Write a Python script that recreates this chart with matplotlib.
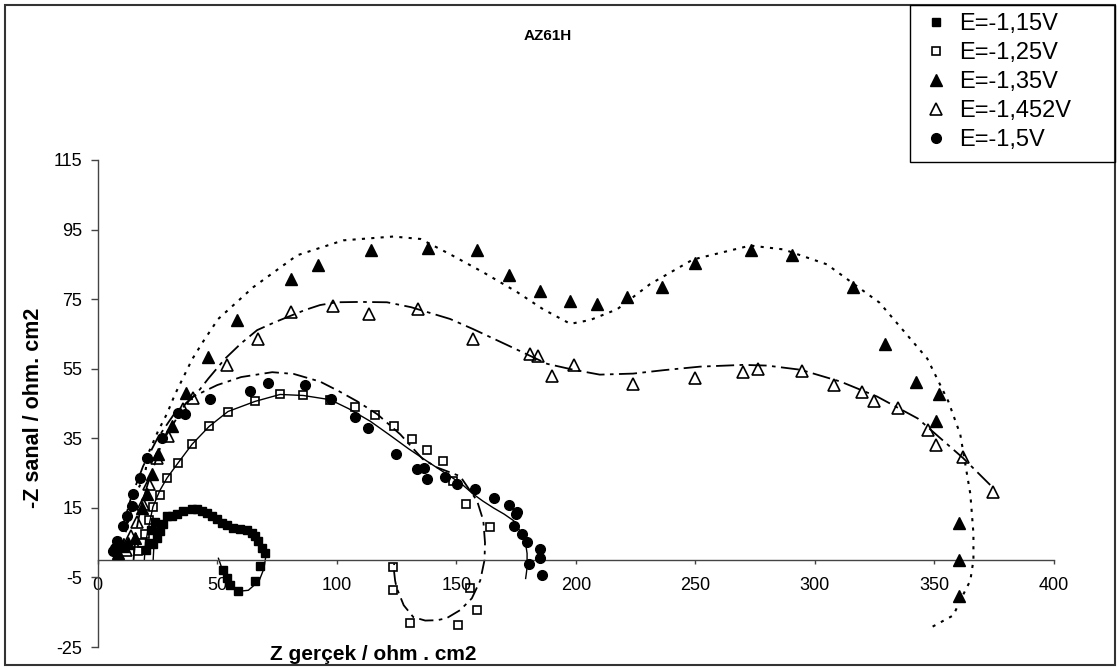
import matplotlib
matplotlib.use('Agg')
import matplotlib.pyplot as plt
from matplotlib.patches import Rectangle

plt.rcParams['font.family'] = ['Liberation Sans', 'DejaVu Sans']
plt.rcParams['axes.unicode_minus'] = False

labels = ['E=-1,15V', 'E=-1,25V', 'E=-1,35V', 'E=-1,452V', 'E=-1,5V']
title = 'AZ61H'
xlabel = 'Z gerçek / ohm . cm2'
ylabel = '-Z sanal / ohm. cm2'
xticks = [0, 50, 100, 150, 200, 250, 300, 350, 400]
yticks = [-25, -5, 15, 35, 55, 75, 95, 115]

# E=-1,15V (filled squares)
x115 = [20.0, 21.5, 22.5, 23.1, 24.0, 24.8, 26.1, 27.5, 29.0, 31.1, 33.2, 35.7, 39.5, 41.5, 43.6, 45.7,
        47.8, 49.9, 52.0, 54.1, 56.6, 59.5, 62.5, 64.6, 65.9, 67.1, 68.8, 70.0, 67.9, 65.9, 58.7,
        55.4, 54.1, 52.5]
y115 = [2.8, 5.0, 8.5, 4.7, 11.0, 6.4, 8.4, 10.5, 12.7, 12.7, 13.3, 14.1, 14.7, 14.7, 14.1, 13.6,
        12.7, 11.9, 10.7, 10.1, 9.3, 9.0, 8.7, 7.9, 7.0, 5.6, 3.6, 2.1, -1.6, -5.9, -9.0,
        -7.3, -5.3, -3.0]

# E=-1,25V (open squares)
x125 = [17.0, 18.5, 19.8, 21.5, 23.1, 26.1, 29.0, 33.6, 39.5, 46.6, 54.5, 65.8, 76.3, 86.0, 97.2,
        107.7, 116.1, 124.0, 131.5, 137.8, 144.5, 148.7, 154.1, 164.2, 158.7, 155.8, 150.8, 130.7,
        123.6, 123.6]
y125 = [2.5, 5.0, 7.6, 11.5, 15.3, 18.7, 23.6, 27.9, 33.3, 38.4, 42.7, 45.6, 47.6, 47.3, 46.1,
        44.1, 41.6, 38.4, 34.7, 31.6, 28.4, 22.7, 16.1, 9.6, -14.4, -7.9, -18.7, -18.1,
        -8.7, -2.1]

# E=-1,35V (filled triangles)
x135 = [8.5, 10.5, 12.7, 15.6, 18.5, 20.6, 22.7, 25.2, 31.1, 36.9, 46.2, 58.3, 80.9, 92.2, 114.4,
        138.2, 158.7, 172.1, 185.1, 197.7, 209.0, 221.5, 236.2, 250.0, 273.4, 290.5, 316.1,
        329.4, 342.4, 352.0, 350.8, 360.4, 360.4, 360.4]
y135 = [2.0, 4.0, 5.0, 6.4, 15.0, 19.0, 24.7, 30.4, 38.4, 47.9, 58.4, 69.0, 80.7, 84.7, 89.0,
        89.6, 89.0, 81.9, 77.3, 74.4, 73.6, 75.6, 78.4, 85.3, 89.0, 87.6, 78.4,
        62.1, 51.3, 47.6, 40.1, 10.7, 0.1, -10.4]

# E=-1,452V (open triangles)
x1452 = [12.0, 14.0, 16.5, 19.0, 21.5, 24.8, 29.4, 35.7, 39.9, 54.1, 67.1, 80.9, 98.5, 113.6,
         134.0, 157.1, 180.9, 184.2, 190.1, 199.3, 224.0, 250.0, 270.1, 276.0, 294.8, 307.8,
         319.5, 324.8, 334.9, 347.4, 350.8, 362.1, 374.6]
y1452 = [3.0, 7.0, 11.0, 16.0, 22.0, 29.3, 35.6, 43.3, 46.7, 56.1, 63.6, 71.3, 73.0, 70.7,
         72.1, 63.6, 59.3, 58.7, 53.0, 56.1, 50.7, 52.4, 54.1, 55.0, 54.4, 50.4,
         48.4, 45.6, 43.6, 37.3, 33.0, 29.6, 19.6]

# E=-1,5V (filled circles)
x15 = [6.4, 7.3, 8.1, 10.6, 12.3, 14.4, 14.8, 17.7, 20.6, 26.9, 33.6, 36.6, 47.0, 63.8, 71.3,
       86.8, 97.4, 107.7, 113.1, 124.8, 133.6, 136.5, 137.8, 145.3, 150.4, 157.9, 165.8, 172.1,
       175.4, 175.0, 174.2, 177.5, 179.6, 185.1, 185.1, 180.5, 185.9]
y15 = [2.7, 3.6, 5.6, 9.9, 12.7, 15.6, 19.0, 23.6, 29.3, 35.0, 42.4, 42.1, 46.4, 48.7, 51.0,
       50.4, 46.4, 41.0, 37.9, 30.4, 26.1, 26.4, 23.3, 23.9, 21.9, 20.4, 17.9, 15.9,
       13.9, 13.3, 9.9, 7.6, 5.3, 3.3, 0.7, -1.0, -4.4]

# fitted curves
fx115 = [23.2, 23.5, 25, 27, 30, 35, 40, 45, 50, 55, 60, 64, 67, 69.5, 70.2, 69.5, 67.5, 63, 58.7,
         55.5, 53, 51.5, 50.5]
fy115 = [0, 4, 8, 11, 13, 14.3, 14.8, 14.2, 12.5, 10.3, 9, 8, 6.5, 3.5, 0.5, -2.5, -6, -8.7, -9,
         -7.5, -4.5, -1.5, 0.5]

fx125 = [8, 9, 11, 14, 19, 25, 32, 40, 50, 60, 73, 82, 93, 101, 108.6, 117, 126.6, 132, 136, 142,
         147, 151.6, 155, 158.7, 161.3, 162, 161.8, 160, 156.5, 151.6, 146, 142, 137, 132, 128,
         125, 124.4, 124, 124]
fy125 = [0, 5, 11, 18, 27, 35, 42, 47, 50.3, 52.6, 54, 53.5, 51.3, 48.5, 45.6, 41.9, 36.1, 32,
         29, 26.6, 25.3, 24.1, 20.7, 17, 11.3, 5, 0, -5.9, -11, -14.4, -16.7, -17.3, -17.4, -16.4,
         -13, -7.9, -5.9, -3.5, -1]

fx135 = [10, 11, 13, 16, 19.8, 21, 25.2, 29, 32.3, 39.5, 44, 50.4, 65, 83.4, 102.7, 123.6, 135,
         147.4, 161.3, 175.5, 186.3, 197.7, 206, 217.3, 231, 249, 273, 286.8, 305, 327, 347,
         355.8, 360.8, 365, 366.3, 366.3, 365, 360.8, 357.9, 348]
fy135 = [0, 6, 12, 19, 24.7, 30.4, 37, 42.1, 47.6, 57.7, 62.7, 69.3, 78.4, 87.6, 91.9, 93, 92.3,
         87.9, 82.7, 77, 72.1, 67.9, 69, 72.1, 79.3, 86.4, 90.4, 89.3, 85, 74, 57.9,
         45.6, 36.1, 19, 7.6, 0, -5.9, -11.6, -15.9, -19.6]

fx1452 = [15, 16, 18, 21, 24, 27, 32.3, 36.5, 42, 46.2, 53.3, 60, 66.7, 74.2, 79.2, 86.8, 93,
          100, 110, 121, 131, 147.4, 157, 171, 188, 199, 210, 224, 237, 252, 270, 280, 294,
          310.7, 326, 343, 362, 374.6]
fy1452 = [0, 8, 15, 22, 28, 34, 39.9, 44.7, 48.4, 52.1, 57.9, 62.3, 66.1, 68.4, 69.8, 71.9, 73.3,
          74.1, 74.2, 74.1, 72.7, 69.3, 66.4, 61.9, 56.4, 54.7, 53.3, 53.6, 54.6, 55.6, 56.1,
          55.9, 54.7, 51.3, 47, 40.7, 29.3, 20.7]

fx15 = [19.5, 20, 21.5, 23.1, 26, 29, 33.6, 39.5, 46.6, 54.5, 65.8, 76.3, 86, 97.2, 105, 114, 122,
        130, 138, 146, 152, 157, 161, 165.5, 170, 174, 176.5, 178.8, 179.6, 179.6, 179.3, 179]
fy15 = [0, 5, 10, 15.3, 20, 23.6, 27.9, 33.3, 38.4, 42.7, 45.6, 47.6, 47.3, 46.1, 43.5, 39.9, 36,
        32, 28.3, 24.7, 22, 19, 17, 15, 13.2, 11.3, 8.5, 5.6, 1.9, -2.1, -3.8, -5.3]

W, H = 1118, 670
fig = plt.figure(figsize=(W / 100, H / 100), dpi=100)
ax = fig.add_axes([97.7 / W, (H - 647) / H, (1054 - 97.7) / W, (647 - 160) / H])
ax.set_xlim(0, 400)
ax.set_ylim(-25, 115)

# fitted lines
ax.plot(fx115, fy115, color='black', lw=1.0, ls='-', zorder=2)
ax.plot(fx125, fy125, color='black', lw=1.3, ls=(0, (8, 3, 2, 3)), zorder=2)
ax.plot(fx135, fy135, color='black', lw=1.5, ls=(0, (1.5, 3)), zorder=2)
ax.plot(fx1452, fy1452, color='black', lw=1.3, ls=(0, (10, 3, 2, 3)), zorder=2)
ax.plot(fx15, fy15, color='black', lw=1.0, ls='-', zorder=2)

# markers
h1, = ax.plot(x115, y115, ls='none', marker='s', ms=6, mfc='black', mec='black', zorder=3)
h2, = ax.plot(x125, y125, ls='none', marker='s', ms=6, mfc='none', mec='black', mew=1.2, zorder=3)
h3, = ax.plot(x135, y135, ls='none', marker='^', ms=8, mfc='black', mec='black', zorder=3)
h4, = ax.plot(x1452, y1452, ls='none', marker='^', ms=8, mfc='none', mec='black', mew=1.2, zorder=3)
h5, = ax.plot(x15, y15, ls='none', marker='o', ms=7, mfc='black', mec='black', zorder=3)

for s in ['top', 'right']:
    ax.spines[s].set_visible(False)
ax.spines['bottom'].set_position(('data', 0))
for s in ['left', 'bottom']:
    ax.spines[s].set_color('#444444')
    ax.spines[s].set_linewidth(1.0)
ax.set_xticks(xticks)
ax.set_yticks(yticks)
ax.tick_params(axis='x', direction='out', length=3, width=1, pad=9.0, labelsize=13, color='#444444')
ax.tick_params(axis='y', direction='out', length=5, width=1, pad=6.0, labelsize=13, color='#444444')
ax.patch.set_visible(False)

fig.text(548 / W, 1 - 36 / H, title, ha='center', va='center', fontsize=11, fontweight='bold')
fig.text(373 / W, 1 - 655 / H, xlabel, ha='center', va='center', fontsize=15, fontweight='bold')
fig.text(34 / W, 1 - 408 / H, ylabel, ha='center', va='center', fontsize=15.5, fontweight='bold',
         rotation=90)

leg = fig.legend([h1, h2, h3, h4, h5], labels, loc='upper left',
                 bbox_to_anchor=(910 / W, 1 - 5 / H), bbox_transform=fig.transFigure,
                 frameon=False, fontsize=17, handlelength=1.5, handletextpad=0.27,
                 labelspacing=0.3, borderpad=0.33, borderaxespad=0)

fig.patches.append(Rectangle((910 / W, (H - 162) / H), 205 / W, 157 / H, transform=fig.transFigure,
                             fill=False, ec='black', lw=1.0, zorder=5))
fig.patches.append(Rectangle((5 / W, 5 / H), 1110 / W, 660 / H, transform=fig.transFigure,
                             fill=False, ec='#333333', lw=1.5, zorder=0))

fig.savefig('out.png', dpi=100)
